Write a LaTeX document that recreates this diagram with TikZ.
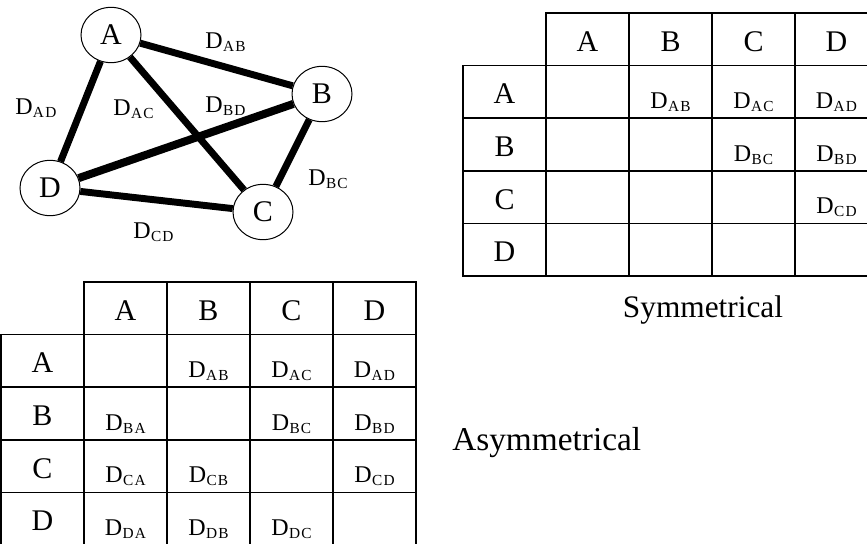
\documentclass[tikz,border=0pt]{standalone}
\usepackage{fontspec}
\setmainfont{Liberation Serif}
\usetikzlibrary{backgrounds, shapes.geometric}

% fonts
\newcommand{\bigletter}{\fontsize{22.5}{25}\selectfont}
\newcommand{\dfont}{\fontsize{18}{20}\selectfont}
% a distance D with a two-letter index, e.g. \dsub{AB}
\newcommand{\dsub}[1]{D\kern0.3pt\raisebox{-2.4pt}{\fontsize{11.5}{12}\selectfont
  \addfontfeature{LetterSpace=8}#1}}

\tikzset{
  vertex/.style={ellipse, draw, line width=0.75pt, fill=white,
    minimum width=45pt, minimum height=41.5pt, inner sep=0pt,
    font=\bigletter},
  link/.style={line width=5.2pt},
  cell/.style={draw, line width=1.1pt, minimum width=62.25pt,
    minimum height=39.45pt, inner sep=0pt, text height=18pt,
    text depth=0pt, font=\bigletter},
  dcell/.style={cell, text height=25pt, font=\dfont},
  dist/.style={anchor=base west, inner sep=0pt, font=\dfont},
  caption/.style={inner sep=0pt}
}

\begin{document}
\begin{tikzpicture}[x=0.75pt, y=-0.75pt]
\path[use as bounding box, clip] (0,0) rectangle (867,543);

% ---------------- complete graph on four vertices ----------------
\node[vertex] (A) at (111,35)  {A};
\node[vertex] (B) at (322,94)  {B};
\node[vertex] (C) at (263,212) {C};
\node[vertex] (D) at (50,188)  {D};

\begin{pgfonlayer}{background}
  \draw[link] (A) -- (B);
  \draw[link] (A) -- (D);
  \draw[link] (A) -- (C);
  \draw[link, line width=6pt] (B) -- (D);
  \draw[link] (B) -- (C);
  \draw[link] (D) -- (C);
\end{pgfonlayer}

\node[dist] (lab-AB) at (205,48)  {\dsub{AB}};
\node[dist] (lab-AD) at (15,114)  {\dsub{AD}};
\node[dist] (lab-AC) at (113,115) {\dsub{AC}};
\node[dist] (lab-BD) at (205,112) {\dsub{BD}};
\node[dist] (lab-BC) at (308,185) {\dsub{BC}};
\node[dist] (lab-CD) at (133,238) {\dsub{CD}};

% ---------------- symmetrical distance table ----------------
\foreach \c/\L in {1/A,2/B,3/C,4/D} {
  \node[cell] (s-0-\c) at (504.5+83*\c, 39.3) {\L};
  \node[cell] (s-\c-0) at (504.5, 39.3+52.6*\c) {\L};
}
\foreach \r/\R in {1/A,2/B,3/C,4/D} {
  \foreach \c/\C in {1/A,2/B,3/C,4/D} {
    \ifnum\c>\r
      \node[dcell] (s-\r-\c) at (504.5+83*\c, 39.3+52.6*\r) {\dsub{\R\C}};
    \else
      \node[cell] (s-\r-\c) at (504.5+83*\c, 39.3+52.6*\r) {};
    \fi
  }
}
\node[caption, anchor=base, font=\fontsize{23.5}{28}\selectfont]
  (sym) at (703,317) {Symmetrical};

% ---------------- asymmetrical distance table ----------------
\foreach \c/\L in {1/A,2/B,3/C,4/D} {
  \node[cell] (a-0-\c) at (42.5+83*\c, 308.3) {\L};
  \node[cell] (a-\c-0) at (42.5, 308.3+52.6*\c) {\L};
}
\foreach \r/\R in {1/A,2/B,3/C,4/D} {
  \foreach \c/\C in {1/A,2/B,3/C,4/D} {
    \ifnum\c=\r
      \node[cell] (a-\r-\c) at (42.5+83*\c, 308.3+52.6*\r) {};
    \else
      \node[dcell] (a-\r-\c) at (42.5+83*\c, 308.3+52.6*\r) {\dsub{\R\C}};
    \fi
  }
}
\node[caption, anchor=base west, font=\fontsize{25}{30}\selectfont]
  (asym) at (452,450) {Asymmetrical};
\end{tikzpicture}
\end{document}
